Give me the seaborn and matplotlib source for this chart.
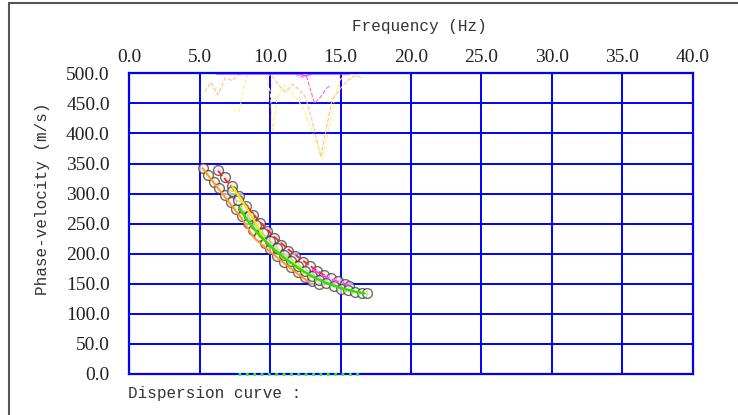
#! /usr/bin/env python3
'''
Dispersion curve picking chart: phase velocity vs frequency.
'''
# imports
from matplotlib.lines import Line2D
import matplotlib.pyplot as plt
import pandas as pd
import seaborn as sns

# settings
sns.set_style("white")
MONO = ['Liberation Mono', 'DejaVu Sans Mono']
SERIF = ['Liberation Serif', 'DejaVu Serif']
BLUE = '#0000FF'

# picked dispersion points (three branches)
f_up = [6.3, 6.8, 7.3, 7.8, 8.3, 8.8, 9.3, 9.8, 10.3, 10.8, 11.3, 11.8, 12.3, 12.8, 13.3, 13.8, 14.3, 14.8, 15.3, 15.6]
v_up = [340, 328, 312, 296, 280, 265, 251, 238, 226, 215, 205, 196, 187, 179, 172, 165, 159, 154, 150, 147]
f_lo = [5.2, 5.6, 6.0, 6.4, 6.8, 7.2, 7.6, 8.0, 8.4, 8.8, 9.2, 9.6, 10.0, 10.5, 11.0, 11.5, 12.0, 12.5, 13.0, 13.5]
v_lo = [342, 331, 320, 309, 297, 286, 274, 263, 251, 240, 229, 218, 208, 197, 187, 178, 169, 161, 154, 149]
f_gr = [7.3, 7.7, 8.1, 8.5, 9.0, 9.5, 10.0, 10.5, 11.0, 11.5, 12.0, 12.5, 13.0, 13.5, 14.0, 14.5, 15.0, 15.5, 16.0, 16.5, 16.9]
v_gr = [305, 290, 276, 263, 248, 234, 221, 209, 198, 188, 179, 171, 163, 157, 151, 146, 142, 139, 137, 135, 134]

# fitted curves
f_red = [6.3, 7.3, 8.3, 9.3, 10.3, 11.3, 12.3, 13.3, 14.0]
v_red = [338, 310, 280, 252, 228, 207, 189, 172, 162]
f_mag = [13.0, 13.8, 14.6, 15.6]
v_mag = [174, 163, 155, 148]
f_org = [5.2, 6.0, 7.0, 8.0, 8.8, 9.9, 11.0, 12.0, 12.8]
v_org = [342, 318, 288, 258, 228, 205, 184, 166, 152]
f_yel = [7.3, 8.0, 8.7, 9.6, 10.5, 11.5, 12.3]
v_yel = [312, 288, 262, 224, 203, 186, 174]
f_grn = [7.8, 8.5, 9.2, 10.0, 11.0, 12.0, 13.0, 14.0, 15.0, 16.0, 16.7]
v_grn = [276, 252, 232, 213, 193, 176, 162, 151, 143, 137, 134]

# spectral traces near the top
f_t_org = [5.35, 5.8, 6.3, 6.8, 7.3, 7.8, 8.3, 8.8, 9.3, 9.8, 10.2, 10.6, 11.1, 11.6, 12.0, 12.5, 13.0, 13.6, 14.0, 14.4, 15.1, 15.6, 16.1, 16.5]
v_t_org = [469, 485, 464, 492, 488, 498, 500, 500, 500, 498, 494, 480, 469, 482, 474, 461, 420, 361, 410, 456, 478, 490, 497, 492]
f_t_yel = [7.35, 7.8, 8.05, 8.4, 9.0, 9.6, 10.0, 10.2, 10.5, 11.0, 11.5, 12.0, 12.5, 13.0, 13.7, 14.2, 14.65, 15.0, 15.5, 16.0, 16.5, 17.0]
v_t_yel = [439, 436, 467, 497, 500, 500, 470, 405, 460, 480, 470, 455, 434, 400, 359, 410, 467, 490, 500, 498, 500, 500]
f_t_red = [11.8, 12.1, 12.6, 13.15, 13.6, 14.0, 14.3]
v_t_red = [500, 494, 494, 450, 461, 475, 480]
f_t_mag = [6.2, 7.0, 8.0, 9.0, 10.0, 11.0, 12.0, 12.5, 13.0, 14.0, 15.0, 15.6]
v_t_mag = [499, 499, 499, 499, 499, 499, 499, 496, 499, 499, 499, 499]

# bottom marker
f_bot = [7.7, 16.5]
v_bot = [0, 0]

x_ticks = [0, 5, 10, 15, 20, 25, 30, 35, 40]
y_ticks = [0, 50, 100, 150, 200, 250, 300, 350, 400, 450, 500]

fig = plt.figure(figsize=(7.38, 4.15), dpi=100)
ax = fig.add_axes([0.1752, 0.0988, 0.7634, 0.7246])

# grid
for x in x_ticks:
    ax.axvline(x, color=BLUE, lw=1.4, zorder=1)
for y in y_ticks:
    ax.axhline(y, color=BLUE, lw=1.4, zorder=1)

# top traces
for f, v, c, ls, lw in [(f_t_org, v_t_org, '#FFC080', '--', 0.8),
                         (f_t_yel, v_t_yel, '#FFF080', '--', 0.8),
                         (f_t_red, v_t_red, '#FF7090', '--', 0.8),
                         (f_t_mag, v_t_mag, '#FF40FF', '-', 1.2)]:
    sns.lineplot(x=f, y=v, ax=ax, color=c, ls=ls, lw=lw, sort=False, zorder=2)

# picked points
for f, v, fc in [(f_lo, v_lo, '#FFF0E0'), (f_up, v_up, '#FFE8EE'), (f_gr, v_gr, '#FAFAE0')]:
    pts = pd.DataFrame({'f': f, 'v': v})
    sns.scatterplot(data=pts, x='f', y='v', ax=ax, s=50, facecolor=fc,
                    edgecolor='#333333', linewidth=1.0, alpha=0.7, zorder=3)

# curves
sns.lineplot(x=f_org, y=v_org, ax=ax, color='#FF9A20', lw=1.4, zorder=4)
sns.lineplot(x=f_red, y=v_red, ax=ax, color='#FF2020', lw=1.3, ls='--', zorder=4)
sns.lineplot(x=f_mag, y=v_mag, ax=ax, color='#FF40FF', lw=1.5, ls='--', zorder=4)
sns.lineplot(x=f_yel, y=v_yel, ax=ax, color='#E8F000', lw=1.6, zorder=4)
sns.lineplot(x=f_grn, y=v_grn, ax=ax, color='#30E000', lw=1.8, zorder=5)
ax.plot(f_bot, v_bot, color='#20FF20', lw=2.0, ls=':', zorder=6, clip_on=False)

ax.set_xlim(0, 40)
ax.set_ylim(0, 500)
ax.set_xticks(x_ticks)
ax.set_yticks(y_ticks)
ax.set_xticklabels([f'{t:.1f}' for t in x_ticks], family=SERIF, fontsize=14)
ax.set_yticklabels([f'{t:.1f}' for t in y_ticks], family=SERIF, fontsize=14)
ax.xaxis.tick_top()
ax.tick_params(axis='x', length=0, pad=5, labelcolor='#222222')
ax.tick_params(axis='y', length=0, pad=14, labelcolor='#222222')
for s in ax.spines.values():
    s.set_color(BLUE)
    s.set_linewidth(1.6)
ax.set_xlabel('')
ax.set_ylabel('')

fig.text(0.568, 0.935, 'Frequency (Hz)', family=MONO, fontsize=11.5, color='#333333', ha='center', va='center')
fig.text(0.057, 0.52, 'Phase-velocity (m/s)', family=MONO, fontsize=11.5, color='#333333',
         rotation=90, ha='center', va='center')
fig.text(0.174, 0.052, 'Dispersion curve :', family=MONO, fontsize=11.5, color='#333333', ha='left', va='center')

# window frame
fig.add_artist(Line2D([9 / 738, 1], [1 - 3.5 / 415, 1 - 3.5 / 415], color='#555555', lw=1.5))
fig.add_artist(Line2D([9 / 738, 9 / 738], [0, 1 - 3.5 / 415], color='#555555', lw=1.5))

fig.savefig('out.png', dpi=100)
plt.close()
